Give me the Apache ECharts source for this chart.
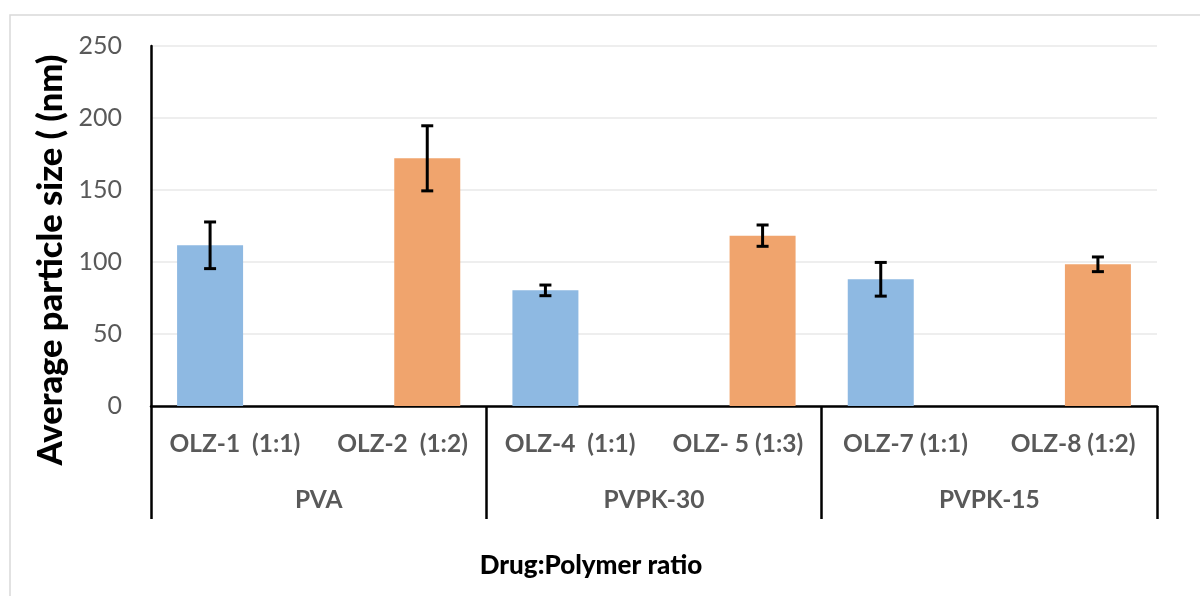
<!DOCTYPE html>
<html>
<head>
<meta charset="utf-8">
<script src="https://cdn.jsdelivr.net/npm/echarts@6/dist/echarts.min.js"></script>
<style>html,body{margin:0;padding:0;background:#fff}#c{width:1200px;height:596px}</style>
</head>
<body>
<div id="c"></div>
<script>
const categories = ['OLZ-1  (1:1)', 'OLZ-2  (1:2)', 'OLZ-4  (1:1)', 'OLZ- 5 (1:3)', 'OLZ-7 (1:1)', 'OLZ-8 (1:2)'];
const groups = ['PVA', 'PVPK-30', 'PVPK-15'];
const blueValues = [111.6, null, 80.3, null, 88.0, null];
const orangeValues = [null, 172.0, null, 118.3, null, 98.4];
const errors = [16.2, 22.6, 3.7, 7.4, 11.7, 5.1];
const yTicks = [0, 50, 100, 150, 200, 250];

const BAR_W = 66, BAR_GAP = -0.25;
const halfSep = BAR_W * (1 + BAR_GAP) / 2;

const errData = categories.map((c, i) => {
  const v = blueValues[i] != null ? blueValues[i] : orangeValues[i];
  const side = blueValues[i] != null ? -1 : 1;
  return [i, v - errors[i], v + errors[i], side];
});

const FONT = 'Lato';
const chart = echarts.init(document.getElementById('c'));
chart.setOption({
  animation: false,
  grid: { left: 151, right: 43, top: 46, bottom: 190, containLabel: false },
  xAxis: [
    {
      type: 'category', data: categories, position: 'bottom',
      axisLine: { lineStyle: { color: '#000', width: 2.5 } },
      axisTick: { show: false },
      axisLabel: { interval: 0, margin: 26, color: '#595959', fontFamily: FONT, fontWeight: 'bold', fontSize: 24.5 },
      splitLine: { show: false }
    },
    {
      type: 'category', data: groups, position: 'bottom', offset: 0,
      axisLine: { show: false },
      axisTick: { show: true, length: 113, lineStyle: { color: '#000', width: 2.5 } },
      axisLabel: { interval: 0, margin: 82, color: '#595959', fontFamily: FONT, fontWeight: 'bold', fontSize: 24.5 },
      splitLine: { show: false }
    }
  ],
  yAxis: {
    type: 'value', min: 0, max: 250, interval: 50,
    axisLine: { show: true, lineStyle: { color: '#000', width: 2.5 } },
    axisTick: { show: false },
    axisLabel: { margin: 29, color: '#595959', fontFamily: FONT, fontSize: 25,
      formatter: v => yTicks.includes(v) ? String(v) : '' },
    splitLine: { lineStyle: { color: '#e8e8e8', width: 1.5 } }
  },
  series: [
    { type: 'bar', data: blueValues, barWidth: BAR_W, barGap: (BAR_GAP * 100) + '%',
      itemStyle: { color: '#8EB9E2' } },
    { type: 'bar', data: orangeValues, barWidth: BAR_W, barGap: (BAR_GAP * 100) + '%',
      itemStyle: { color: '#F0A46D' } },
    { type: 'custom', xAxisIndex: 0, data: errData, z: 10,
      encode: { x: 0, y: [1, 2] },
      renderItem: function (params, api) {
        const i = api.value(0);
        const lo = api.coord([i, api.value(1)]);
        const hi = api.coord([i, api.value(2)]);
        const x = lo[0] + api.value(3) * halfSep;
        const cap = 6;
        const st = { stroke: '#000', lineWidth: 3 };
        return { type: 'group', children: [
          { type: 'line', shape: { x1: x, y1: hi[1], x2: x, y2: lo[1] }, style: st },
          { type: 'line', shape: { x1: x - cap, y1: hi[1], x2: x + cap, y2: hi[1] }, style: st },
          { type: 'line', shape: { x1: x - cap, y1: lo[1], x2: x + cap, y2: lo[1] }, style: st }
        ]};
      }
    }
  ],
  graphic: [
    { type: 'rect', silent: true, z: -1, shape: { x: 10, y: 15, width: 1300, height: 700 },
      style: { fill: 'none', stroke: '#d9d9d9', lineWidth: 1.5 } },
    { type: 'text', x: 51, y: 260, rotation: Math.PI / 2,
      style: { text: 'Average particle size ( (nm)', align: 'center', verticalAlign: 'middle',
        font: '900 34.5px Lato', fill: '#000' } },
    { type: 'text', x: 591, y: 566,
      style: { text: 'Drug:Polymer ratio', align: 'center', verticalAlign: 'middle',
        font: '900 26px Lato', fill: '#000' } }
  ]
});
</script>
</body>
</html>
